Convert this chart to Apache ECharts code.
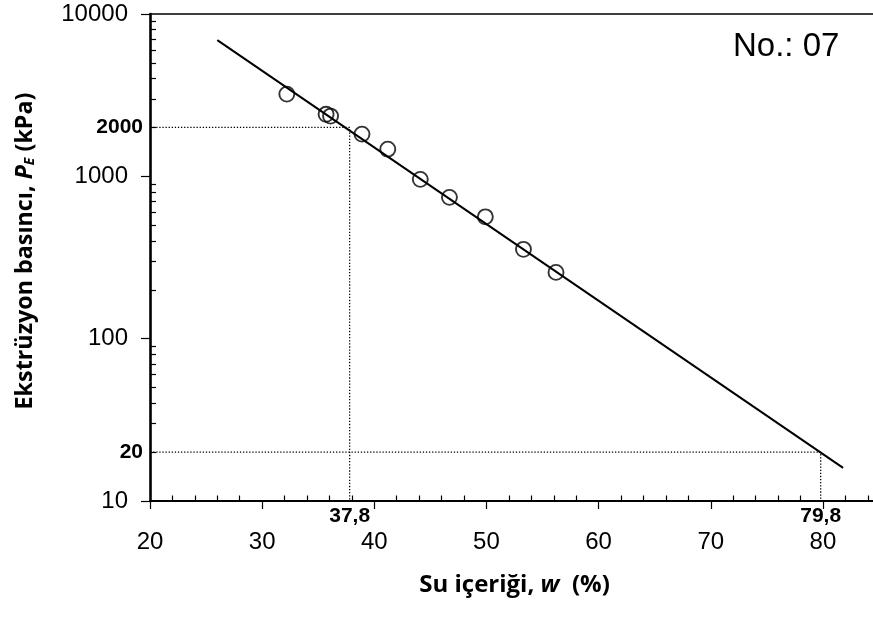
<!DOCTYPE html>
<html>
<head>
<meta charset="utf-8">
<script src="https://cdn.jsdelivr.net/npm/echarts@6/dist/echarts.min.js"></script>
<style>
  html, body { margin: 0; padding: 0; background: #ffffff; }
  #chart { width: 873px; height: 619px; }
</style>
</head>
<body>
<div id="chart"></div>
<script>
// Measured samples: water content (%) and extrusion pressure (kPa)
const waterContent = [32.2, 35.7, 36.1, 38.9, 41.2, 44.1, 46.7, 49.9, 53.3, 56.2];
const extrusionPressure = [3210, 2410, 2350, 1820, 1470, 958, 742, 563, 355, 256];

// Fitted straight line (semi-log), start and end points
const fitWater = [26.0, 81.8];
const fitPressure = [6900, 16];

// Reference pressures and the water contents read from the fit
const refPressure = [2000, 20];
const refWater = [37.8, 79.8];

// Axis ticks
const xMajorTicks = [20, 30, 40, 50, 60, 70, 80];
const xMinorTicks = [22, 24, 26, 28, 32, 34, 36, 38, 42, 44, 46, 48, 52, 54, 56, 58,
                     62, 64, 66, 68, 72, 74, 76, 78, 82, 84];
const yMajorTicks = [10, 100, 1000, 10000];
const yMinorTicks = [20, 30, 40, 50, 60, 70, 80, 90,
                     200, 300, 400, 500, 600, 700, 800, 900,
                     2000, 3000, 4000, 5000, 6000, 7000, 8000, 9000];

const sampleLabel = 'No.: 07';
const xTitle = ['Su içeriği, ', 'w', '  (%)'];
const yTitle = ['Ekstrüzyon basıncı, ', 'P', 'E', ' (kPa)'];

const X_MIN = 20, X_MAX = 85;
const NUM_FONT = "'Liberation Sans', Arial, sans-serif";
const TITLE_FONT = "'Open Sans', 'Noto Sans', sans-serif";

const chart = echarts.init(document.getElementById('chart'), null, { renderer: 'canvas' });

const pts = waterContent.map((w, i) => [w, extrusionPressure[i]]);
const fitPts = fitWater.map((w, i) => [w, fitPressure[i]]);
const guideA = [[X_MIN, refPressure[0]], [refWater[0], refPressure[0]], [refWater[0], yMajorTicks[0]]];
const guideB = [[X_MIN, refPressure[1]], [refWater[1], refPressure[1]], [refWater[1], yMajorTicks[0]]];

const log10 = v => Math.log10(v);
const hidden = { show: false };
function titleRich(size) {
  return {
    t: { fontFamily: TITLE_FONT, fontWeight: 'bold', fontSize: size, color: '#000' },
    i: { fontFamily: TITLE_FONT, fontWeight: 'bold', fontStyle: 'italic', fontSize: size, color: '#000' },
    s: { fontFamily: TITLE_FONT, fontWeight: 'bold', fontStyle: 'italic', fontSize: 14, color: '#000',
         padding: [10, 0, 0, 0] }
  };
}

const option = {
  backgroundColor: '#ffffff',
  animation: false,
  grid: {
    left: 150, top: 14, width: 729, height: 487,
    containLabel: false, outerBoundsMode: 'none'
  },
  xAxis: [
    { // main x axis: line, major ticks (outside), numbers
      type: 'value', position: 'bottom', min: X_MIN, max: X_MAX,
      axisLine: { show: true, onZero: false, lineStyle: { color: '#000', width: 2 } },
      axisTick: { show: true, inside: false, length: 8, customValues: xMajorTicks,
                  lineStyle: { color: '#000', width: 1.2 } },
      axisLabel: { show: true, customValues: xMajorTicks, margin: 29,
                   color: '#000', fontSize: 24, fontFamily: NUM_FONT },
      splitLine: hidden,
      name: '{t|' + xTitle[0] + '}{i|' + xTitle[1] + '}{t|' + xTitle[2] + '}',
      nameLocation: 'middle', nameGap: 72, nameMoveOverlap: false,
      nameTextStyle: { rich: titleRich(24) }
    },
    { // minor ticks (inside)
      type: 'value', position: 'bottom', min: X_MIN, max: X_MAX,
      axisLine: { show: false, onZero: false },
      axisTick: { show: true, inside: true, length: 5.5, customValues: xMinorTicks,
                  lineStyle: { color: '#000', width: 1.2 } },
      axisLabel: hidden, splitLine: hidden
    },
    { // reference water content labels
      type: 'value', position: 'bottom', min: X_MIN, max: X_MAX,
      axisLine: { show: false, onZero: false }, axisTick: hidden, splitLine: hidden,
      axisLabel: { show: true, customValues: refWater, margin: 5,
                   formatter: v => String(v).replace('.', ','),
                   color: '#000', fontSize: 21, fontWeight: 'bold', fontFamily: NUM_FONT }
    },
    { // top frame line
      type: 'value', position: 'top', min: X_MIN, max: X_MAX,
      axisLine: { show: true, onZero: false, lineStyle: { color: '#000', width: 1.6 } },
      axisTick: hidden, axisLabel: hidden, splitLine: hidden
    }
  ],
  yAxis: [
    { // main log axis
      type: 'log', logBase: 10, position: 'left', min: 10, max: 10000,
      axisLine: { show: true, onZero: false, lineStyle: { color: '#000', width: 2.6 } },
      axisTick: { show: true, inside: false, length: 9, lineStyle: { color: '#000', width: 1.2 } },
      axisLabel: { show: true, margin: 22, formatter: v => String(v),
                   color: '#000', fontSize: 24, fontFamily: NUM_FONT },
      minorTick: { show: false }, splitLine: hidden,
      name: '{t|' + yTitle[0] + '}{i|' + yTitle[1] + '}{s|' + yTitle[2] + '}{t|' + yTitle[3] + '}',
      nameLocation: 'middle', nameRotate: 90, nameGap: 113, nameMoveOverlap: false,
      nameTextStyle: { padding: [0, 0, 0, 13], rich: titleRich(23.3) }
    },
    { // minor ticks in log10 space (inside)
      type: 'value', position: 'left', min: 1, max: 4,
      axisLine: { show: false, onZero: false },
      axisTick: { show: true, inside: true, length: 6, customValues: yMinorTicks.map(log10),
                  lineStyle: { color: '#000', width: 1.2 } },
      axisLabel: hidden, splitLine: hidden
    },
    { // reference pressure labels
      type: 'value', position: 'left', min: 1, max: 4,
      axisLine: { show: false, onZero: false }, axisTick: hidden, splitLine: hidden,
      axisLabel: { show: true, customValues: refPressure.map(log10), margin: 7,
                   formatter: v => String(Math.round(Math.pow(10, v))),
                   color: '#000', fontSize: 21, fontWeight: 'bold', fontFamily: NUM_FONT }
    }
  ],
  series: [
    {
      name: 'guide-2000', type: 'line', xAxisIndex: 0, yAxisIndex: 0,
      data: guideA, symbol: 'none', silent: true, z: 1,
      lineStyle: { color: '#000', width: 1.3, type: [1.3, 1.8] }
    },
    {
      name: 'guide-20', type: 'line', xAxisIndex: 0, yAxisIndex: 0,
      data: guideB, symbol: 'none', silent: true, z: 1,
      lineStyle: { color: '#000', width: 1.3, type: [1.3, 1.8] }
    },
    {
      name: 'fit', type: 'line', xAxisIndex: 0, yAxisIndex: 0,
      data: fitPts, symbol: 'none', z: 2,
      lineStyle: { color: '#000', width: 2 }
    },
    {
      name: 'samples', type: 'scatter', xAxisIndex: 0, yAxisIndex: 0,
      data: pts, symbol: 'circle', symbolSize: 15, z: 3,
      itemStyle: { color: 'rgba(255,255,255,0)', borderColor: '#000', borderWidth: 1.9 }
    }
  ],
  graphic: [
    {
      type: 'text', left: 733, top: 30, z: 10,
      style: { text: sampleLabel, fill: '#000', fontSize: 33, fontFamily: NUM_FONT }
    }
  ]
};

chart.setOption(option);
</script>
</body>
</html>
